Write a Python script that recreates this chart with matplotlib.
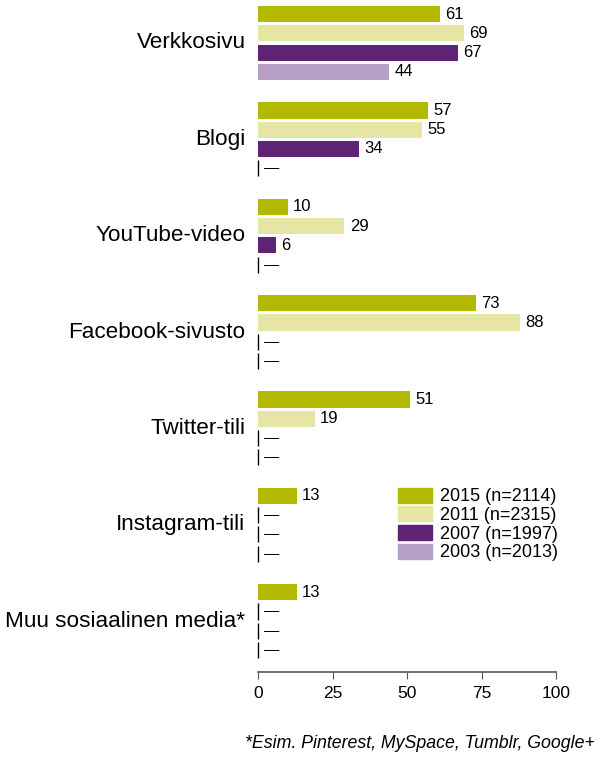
import matplotlib.pyplot as plt
import matplotlib.patches as mpatches
import numpy as np

plt.rcParams["font.family"] = ["Liberation Sans", "DejaVu Sans"]

# data (None = no data for that year)
categories = ["Verkkosivu", "Blogi", "YouTube-video", "Facebook-sivusto",
              "Twitter-tili", "Instagram-tili", "Muu sosiaalinen media*"]
y2015 = [61, 57, 10, 73, 51, 13, 13]
y2011 = [69, 55, 29, 88, 19, None, None]
y2007 = [67, 34, 6, None, None, None, None]
y2003 = [44, None, None, None, None, None, None]
series_labels = ["2015 (n=2114)", "2011 (n=2315)", "2007 (n=1997)", "2003 (n=2013)"]
colors = ["#b3b800", "#e6e5a6", "#5f2375", "#b89fc8"]
xticks = [0, 25, 50, 75, 100]

fig = plt.figure(figsize=(5.94, 7.57), dpi=100)
ax = fig.add_axes([258 / 594, 1 - 672 / 757, 298 / 594, 672 / 757])

bar_h = 0.84
for i, vals in enumerate([y2015, y2011, y2007, y2003]):
    for g, v in enumerate(vals):
        y = g * 5 + i
        if v is None:
            ax.plot([0, 0], [y - bar_h / 2, y + bar_h / 2], color="black", lw=1.0,
                    solid_capstyle="butt", clip_on=False)
            ax.text(2.0, y, "—", va="center", ha="left", fontsize=11)
        else:
            ax.barh(y, v, height=bar_h, color=colors[i], left=0)
            ax.text(v + 1.8, y, str(v), va="center", ha="left", fontsize=12)

for g, cat in enumerate(categories):
    ax.text(-4.2, g * 5 + 1.5, cat, ha="right", va="center", fontsize=16.2)

ax.set_xlim(0, 100)
ax.set_ylim(34.14, -0.73)
ax.set_yticks([])
for s in ["top", "right", "left"]:
    ax.spines[s].set_visible(False)
ax.spines["bottom"].set_color("#555555")
ax.spines["bottom"].set_linewidth(1.2)
ax.set_xticks(xticks)
ax.tick_params(axis="x", length=5, color="#555555", labelsize=12.5, pad=5)

handles = [mpatches.Patch(color=c, label=l) for c, l in zip(colors, series_labels)]
fig.legend(handles=handles, loc="upper left", bbox_to_anchor=(385 / 594, 1 - 475 / 757),
           frameon=False, fontsize=13, handlelength=1.9, handleheight=0.9,
           labelspacing=0.05, handletextpad=0.45, borderpad=0.2)

fig.text(595 / 594, 1 - 744 / 757, "*Esim. Pinterest, MySpace, Tumblr, Google+",
         ha="right", va="center", fontsize=12.8, style="italic")

fig.savefig("out.png", dpi=100)
